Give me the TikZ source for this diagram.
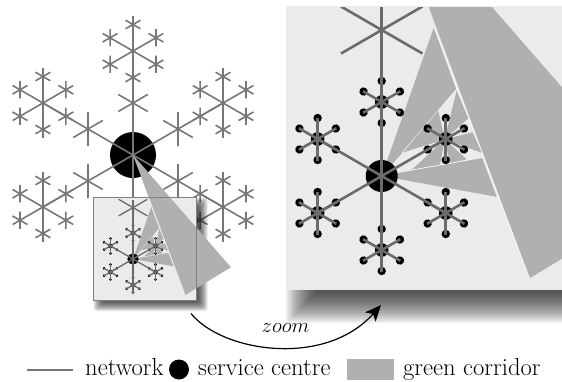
\documentclass[tikz,border=0pt]{standalone}
\usetikzlibrary{arrows.meta}
\definecolor{corr}{HTML}{B0B0B0}
\definecolor{panel}{HTML}{EBEBEB}
\definecolor{netc}{HTML}{777777}
\tikzset{
  net/.style={draw=netc,line width=1.6pt},
  znet/.style={draw=netc!90!black,line width=#1},
  lab/.style={anchor=base west,inner sep=0pt,font=\fontsize{24.6}{27}\selectfont},
}
% small wedges and marked network, drawn in the coordinates of the big panel
\newcommand{\zoomwedges}[1]{%
  \fill[corr] (381.7,176) -- (434,27) -- (456.7,89) -- (402,153) -- cycle;
  \draw[white,line width=#1] (434,27) -- (456.7,89) (456.7,89) -- (402,153);
  \fill[corr] (381.7,176) -- (482,157.7) -- (496.7,196.8) -- cycle;
  \fill[corr] (444.7,139.3) -- (438.3,110.7) -- (403,152.5) -- cycle;
  \fill[corr] (444.7,139.3) -- (456.7,90.5) -- (468.3,118.3) -- cycle;
  \fill[corr] (444.7,139.3) -- (472.7,132.3) -- (481.7,152.7) -- cycle;
  \fill[corr] (444.7,139.3) -- (411.6,170) -- (440,165) -- cycle;
  \fill[corr] (444.7,139.3) -- (450,163.3) -- (466.7,159.3) -- cycle;
  \draw[white,line width=#1] (411.6,170) -- (482,157.7);
}
\newcommand{\zoomnet}[1]{%
  \begin{scope}[shift={(381.7,176)}]
    \foreach \a in {30,90,150,210,270,330}{
      \begin{scope}[rotate=\a,shift={(74,0)}]
        \foreach \b in {0,60,...,300}{
          \fill[black,rotate=\b] (21,0) circle (4.2);
        }
        \fill[black] (0,0) circle (6.8);
        \foreach \b in {0,60,...,300}{
          \draw[znet=#1,rotate=\b] (0,0) -- (21.5,0);
        }
      \end{scope}
    }
    \fill[black] (0,0) circle (16);
    \foreach \a in {30,90,150,210,270,330}{
      \draw[znet=#1,rotate=\a] (0,0) -- (74,0);
    }
    \draw[znet=#1] (0,0) -- (0,-169);
    \draw[znet=#1] (0,-146) ++(30:-47) -- ++(30:94);
    \draw[znet=#1] (0,-146) ++(150:-47) -- ++(150:94);
  \end{scope}
}
\begin{document}
\begin{tikzpicture}[x=1pt,y=-1pt]
\useasboundingbox (0,0) rectangle (562,381);
% left network
\begin{scope}[shift={(133,155)}]
  \foreach \a in {30,90,150,210,270,330}{
    \begin{scope}[rotate=\a]
      \draw[net] (0,0) -- (104,0);
      \draw[net,shift={(52,0)}] (60:-17) -- (60:17) (120:-17) -- (120:17);
      \ifnum\a=270\else
      \begin{scope}[shift={(104,0)}]
        \foreach \b in {0,60,...,300}{
          \begin{scope}[rotate=\b]
            \draw[net] (0,0) -- (35,0);
            \draw[net,shift={(26.5,0)}] (60:-8.6) -- (60:8.6) (120:-8.6) -- (120:8.6);
          \end{scope}
        }
      \end{scope}
      \fi
    \end{scope}
  }
\end{scope}
\fill[black] (133,155) circle (23);
\begin{scope}[shift={(133,155)}]
  \foreach \a in {30,90,150,210,270,330}{\draw[net,rotate=\a] (0,0) -- (24,0);}
\end{scope}
% inset shadow and panel
\foreach \i in {0,...,10}{
  \fill[black,opacity=.095,rounded corners=3pt]
    (99-5.5+\i,203-5.5+\i) rectangle (202.2+5.5-\i,305.5+5.5-\i);
}
\fill[panel] (93.3,197.3) rectangle (196.7,300);
% green corridor, main wedge
\fill[corr] (133,155) -- (231,267.3) -- (185.3,295) -- cycle;
\draw[white,line width=.2pt] (149.4,199.5) -- (185.3,295);
\begin{scope}[shift={(133,259)},scale=.3521,shift={(-381.7,-176)}]
  \zoomwedges{.2pt}
  \zoomnet{1.3pt}
\end{scope}
\draw[draw=black!50,line width=.8pt] (93.3,197.3) rectangle (196.7,300);
% zoom panel shadow
\foreach \i in {0,...,15}{
  \fill[black,opacity=.068] (302-16+2*\i,22-16+2*\i) rectangle (590,307+16-2*\i);
}
\fill[panel] (287,7) rectangle (570,290);
\begin{scope}
  \clip (287,7) rectangle (570,290);
  \fill[corr] (381.7,-119.4) -- (660,199.6) -- (529.6,278.2) -- cycle;
  \draw[white,line width=.5pt] (434,27) -- (529.6,278.2);
  \zoomwedges{.5pt}
  \zoomnet{2.6pt}
\end{scope}
% zoom arrow
\coordinate (zs) at (191,313.5);
\coordinate (ze) at (381,305);
\draw[black,line width=1.2pt,-{Stealth[length=16pt,width=14pt,inset=4pt]}]
  (zs) .. controls (222,352) and (325,368) .. (ze);
\node[anchor=base,inner sep=0pt,font=\fontsize{22.5}{25}\selectfont] (zl) at (285.5,332) {$zoom$};
% legend
\coordinate (la) at (27,370);
\coordinate (lb) at (73,370);
\draw[netc,line width=1.4pt] (la) -- (lb);
\node[lab] (t1) at (85,375) {network};
\node[circle,fill=black,minimum size=20pt,inner sep=0pt] (lc) at (179,369.5) {};
\node[lab] (t2) at (198,375) {service centre};
\node[rectangle,fill=corr,minimum width=47pt,minimum height=21pt,inner sep=0pt] (lg) at (370.5,369.5) {};
\node[lab] (t3) at (403,375) {green corridor};
\end{tikzpicture}
\end{document}
